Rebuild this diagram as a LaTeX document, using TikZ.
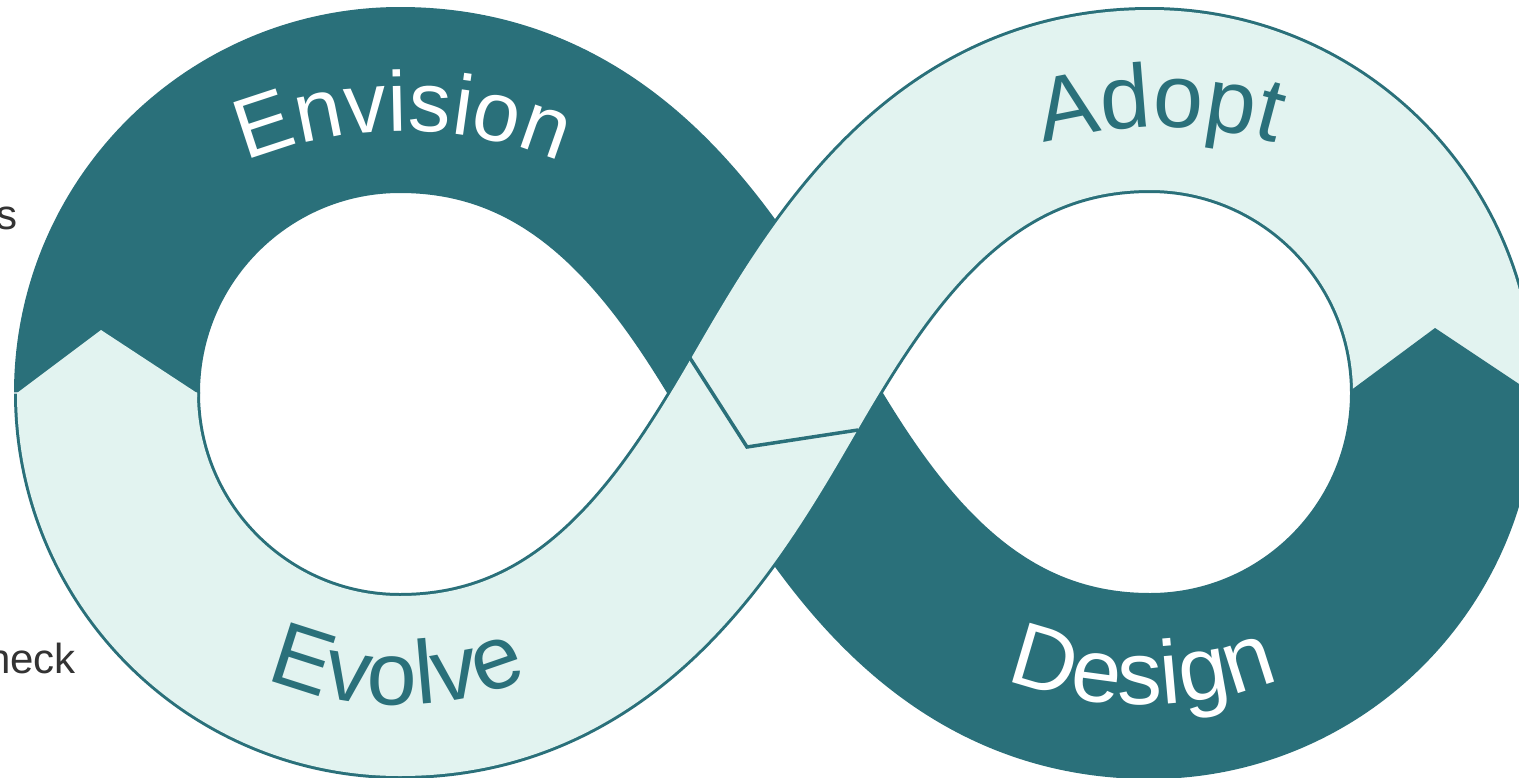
\documentclass[tikz,border=0pt]{standalone}
\usepackage{fontspec}
\setmainfont{Liberation Sans}
\usetikzlibrary{decorations.text}
\definecolor{tealdark}{RGB}{42,112,122}
\definecolor{mint}{RGB}{226,243,240}
\definecolor{fraggray}{RGB}{51,51,51}
\newcommand\bandfont{\fontsize{90}{90}\selectfont}
\newcommand\topfont{\fontsize{85}{85}\selectfont}
\tikzset{
  band/.style={line width=186pt, draw=tealdark},
  bandfill/.style={line width=180pt, draw=mint},
  outl/.style={draw=tealdark, line width=3.5pt, line join=miter},
  frag/.style={anchor=base east, inner sep=0pt, text=fraggray, font=\fontsize{42}{42}\selectfont}
}
\begin{document}
\begin{tikzpicture}[x=1pt,y=-1pt]
\useasboundingbox (0,0) rectangle (1519,777);
\fill[white] (0,0) rectangle (1519,777);
% dark strand: Envision + Design
\draw[band] (107,393) .. controls (107,231.2) and (238.2,100) .. (400,100)
  .. controls (600,100) and (700,263) .. (775,393)
  .. controls (850,523) and (950,686) .. (1150,686)
  .. controls (1311.8,686) and (1443,554.8) .. (1443,393);
% light strand: Adopt + Evolve (outline then fill)
\draw[band] (1443,393) .. controls (1443,231.2) and (1311.8,100) .. (1150,100)
  .. controls (950,100) and (850,263) .. (775,393)
  .. controls (700,523) and (600,686) .. (400,686)
  .. controls (238.2,686) and (107,554.8) .. (107,393);
\draw[bandfill] (1443,393) .. controls (1443,231.2) and (1311.8,100) .. (1150,100)
  .. controls (950,100) and (850,263) .. (775,393)
  .. controls (700,523) and (600,686) .. (400,686)
  .. controls (238.2,686) and (107,554.8) .. (107,393);
% left chevron (Evolve tip into Envision)
\fill[mint] (17,397) -- (17,393) -- (101,330) -- (197,393) -- (197,397) -- cycle;
% right chevron (Design tip into Adopt)
\fill[tealdark] (1350,397) -- (1350,391) -- (1435,328) -- (1540,398) -- (1540,402) -- cycle;
% centre chevron (Adopt tip into Evolve)
\coordinate (c1) at (690,358);
\coordinate (c2) at (747,447);
\coordinate (c3) at (858,430);
\draw[outl] (c1) -- (c2) -- (c3);
% labels
\path[decorate, decoration={text along path, text align=center,
  text={|\topfont\color{white}|Envision}}]
  plot[domain=225:315, samples=80] ({403+417*cos(\x)},{548+417*sin(\x)});
\path[decorate, decoration={text along path, text align=center,
  text={|\bandfont\color{tealdark}|Adopt}}]
  plot[domain=225:315, samples=80] ({1160+420*cos(\x)},{547+420*sin(\x)});
\path[decorate, decoration={text along path, text align=center,
  text={|\bandfont\color{tealdark}|Evolve}}]
  plot[domain=40:140, samples=80] ({397+340*cos(180-\x)},{365+340*sin(180-\x)});
\path[decorate, decoration={text along path, text align=center,
  text={|\bandfont\color{white}|Design}}]
  plot[domain=40:140, samples=80] ({1143+380*cos(180-\x)},{325+380*sin(180-\x)});
% cut-off texts at the left edge
\node[frag] (f1) at (18,229) {s};
\node[frag] (f2) at (76,673) {heck};
\end{tikzpicture}
\end{document}
